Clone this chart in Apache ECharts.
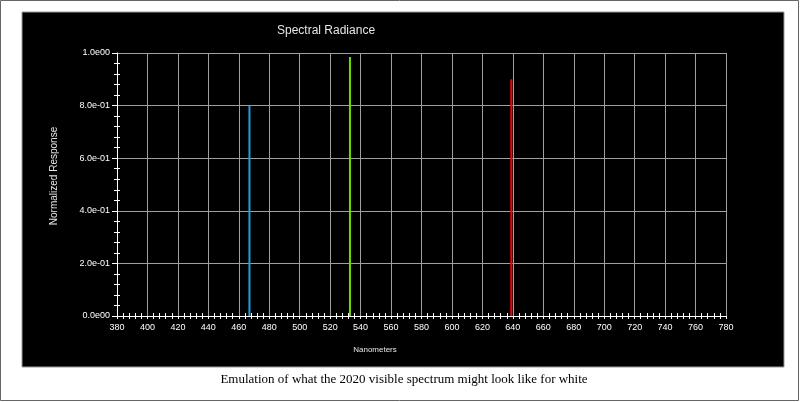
<!DOCTYPE html>
<html>
<head>
<meta charset="utf-8">
<script src="https://cdn.jsdelivr.net/npm/echarts@6/dist/echarts.min.js"></script>
<style>
html,body{margin:0;padding:0;background:#fff;}
#chart{width:800px;height:402px;}
</style>
</head>
<body>
<div id="chart"></div>
<script>
// ---- data ----
const wavelengths = [467, 533, 639];          // nm
const peaks = [0.8, 0.985, 0.9];              // normalized response
const lineColors = ['#1aa3e3', '#6ddf00', '#ff0000'];
const yTickLabels = ['0.0e00', '2.0e-01', '4.0e-01', '6.0e-01', '8.0e-01', '1.0e00'];
const titleText = 'Spectral Radiance';
const xName = 'Nanometers';
const yName = 'Normalized Response';
const caption = 'Emulation of what the 2020 visible spectrum might look like for white';

const font = '"Liberation Sans", Arial, sans-serif';
const series = wavelengths.map((w, i) => ({
  type: 'line',
  xAxisIndex: 0, yAxisIndex: 0,
  data: [[w, 0], [w, peaks[i]]],
  symbol: 'none',
  lineStyle: { color: lineColors[i], width: 2 },
  z: 5,
  silent: true
}));

const grid = { left: 117, top: 53, width: 609, height: 263, outerBoundsMode: 'none', containLabel: false };

const chart = echarts.init(document.getElementById('chart'), null, { renderer: 'canvas' });
chart.setOption({
  backgroundColor: '#ffffff',
  animation: false,
  title: {
    text: titleText, left: 277, top: 25, padding: 0,
    textStyle: { color: '#e6e6e6', fontSize: 12, fontWeight: 'normal', fontFamily: font }
  },
  graphic: [
    { type: 'rect', z: -20, shape: { x: 0.5, y: 0.5, width: 798, height: 400 },
      style: { fill: '#fff', stroke: '#666', lineWidth: 1 } },
    { type: 'rect', z: -10, shape: { x: 22, y: 12, width: 762, height: 355 },
      style: { fill: '#000', stroke: '#9a9a9a', lineWidth: 1 } },
    { type: 'text', z: 10, x: 375, y: 350,
      style: { text: xName, fill: '#e6e6e6', font: '8px ' + font, align: 'center', verticalAlign: 'middle' } },
    { type: 'text', z: 10, x: 54, y: 176, rotation: Math.PI / 2,
      style: { text: yName, fill: '#e6e6e6', font: '10px ' + font, align: 'center', verticalAlign: 'middle' } },
    { type: 'text', z: 10, x: 404, y: 380,
      style: { text: caption, fill: '#000', font: '13px "Liberation Serif", "Times New Roman", serif', align: 'center', verticalAlign: 'middle' } }
  ],
  grid: grid,
  xAxis: [
    {
      type: 'value', min: 380, max: 780, interval: 20,
      axisLine: { show: true, lineStyle: { color: '#ffffff', width: 1 } },
      axisTick: { show: true, length: 3, lineStyle: { color: '#ffffff' } },
      minorTick: { show: true, splitNumber: 5, length: 3, lineStyle: { color: '#ffffff' } },
      splitLine: { show: true, lineStyle: { color: '#a0a0a0', width: 1 } },
      axisLabel: { color: '#ffffff', fontSize: 9, fontFamily: font, margin: 7 }
    },
    {
      type: 'value', min: 380, max: 780, interval: 20, position: 'bottom',
      axisLine: { show: false },
      axisTick: { show: false, inside: true },
      minorTick: { show: true, splitNumber: 5, length: 3, lineStyle: { color: '#ffffff' } },
      splitLine: { show: false },
      axisLabel: { show: false }
    }
  ],
  yAxis: [
    {
      type: 'value', min: 0, max: 1, interval: 0.2,
      axisLine: { show: true, lineStyle: { color: '#ffffff', width: 1 } },
      axisTick: { show: true, length: 5, lineStyle: { color: '#ffffff' } },
      minorTick: { show: true, splitNumber: 5, length: 3, lineStyle: { color: '#ffffff' } },
      splitLine: { show: true, lineStyle: { color: '#a0a0a0', width: 1 } },
      axisLabel: {
        color: '#ffffff', fontSize: 9, fontFamily: font, margin: 7,
        formatter: v => yTickLabels[Math.round(v / 0.2)]
      }
    },
    {
      type: 'value', min: 0, max: 1, interval: 0.2, position: 'left',
      axisLine: { show: false },
      axisTick: { show: false, inside: true },
      minorTick: { show: true, splitNumber: 5, length: 3, lineStyle: { color: '#ffffff' } },
      splitLine: { show: false },
      axisLabel: { show: false }
    }
  ],
  series: series
});
</script>
</body>
</html>
